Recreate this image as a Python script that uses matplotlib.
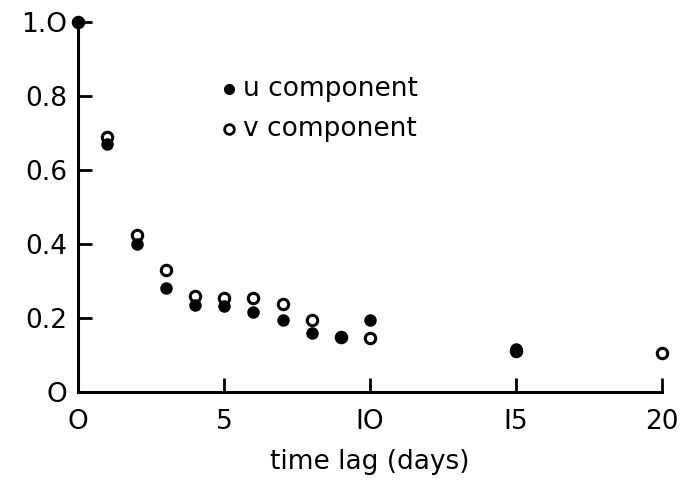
import numpy as np
import matplotlib
matplotlib.use("Agg")
import matplotlib.pyplot as plt

lag = [0, 1, 2, 3, 4, 5, 6, 7, 8, 9, 10, 15, 20]
u_comp = [1.0, 0.67, 0.40, 0.28, 0.235, 0.232, 0.215, 0.195, 0.16, 0.15, 0.195, 0.115, np.nan]
v_comp = [1.0, 0.69, 0.425, 0.33, 0.26, 0.255, 0.255, 0.238, 0.195, 0.15, 0.145, 0.11, 0.105]
xticks = [0, 5, 10, 15, 20]
xticklabels = ["O", "5", "IO", "I5", "20"]
yticks = [0, 0.2, 0.4, 0.6, 0.8, 1.0]
yticklabels = ["O", "0.2", "0.4", "0.6", "0.8", "1.O"]

plt.rcParams['font.family'] = ['DejaVu Sans']
fig = plt.figure(figsize=(6.86, 4.9), dpi=100)
ax = fig.add_axes([0.114, 0.2, 0.851, 0.755])

ax.plot(lag, v_comp, 'o', mfc='white', mec='black', mew=2.2, ms=7.5, clip_on=False, zorder=3)
ax.plot(lag, u_comp, 'o', mfc='black', mec='black', mew=1.5, ms=7.5, clip_on=False, zorder=4)

ax.set_xlim(0, 20)
ax.set_ylim(0, 1.0)
for s in ['top', 'right']:
    ax.spines[s].set_visible(False)
for s in ['left', 'bottom']:
    ax.spines[s].set_linewidth(2.2)
ax.set_xticks(xticks)
ax.set_xticklabels(xticklabels)
ax.set_yticks(yticks)
ax.set_yticklabels(yticklabels)
ax.tick_params(direction='in', length=10, width=2, labelsize=19)
ax.tick_params(axis='x', pad=12)
ax.tick_params(axis='y', pad=8)
ax.set_xlabel("time lag (days)", fontsize=19, labelpad=10)

# legend drawn as in the original (inside the axes)
ax.plot([5.17], [0.82], 'o', mfc='black', mec='black', ms=7, clip_on=False)
ax.plot([5.17], [0.712], 'o', mfc='white', mec='black', mew=2, ms=7, clip_on=False)
ax.text(5.65, 0.82, "u component", fontsize=19, va='center', ha='left')
ax.text(5.65, 0.712, "v component", fontsize=19, va='center', ha='left')

fig.savefig("out.png", dpi=100)
